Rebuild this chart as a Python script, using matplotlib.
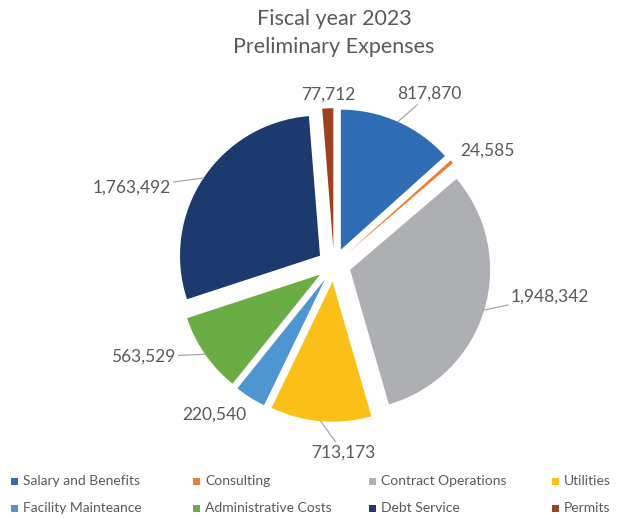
import numpy as np
import matplotlib.pyplot as plt
from matplotlib.patches import Rectangle

plt.rcParams['font.family'] = ['Lato', 'DejaVu Sans']

categories = ["Salary and Benefits", "Consulting", "Contract Operations", "Utilities",
              "Facility Mainteance", "Administrative Costs", "Debt Service", "Permits"]
expenses = [817870, 24585, 1948342, 713173, 220540, 563529, 1763492, 77712]
colors = ["#2E6DB4", "#ED7D31", "#AEAFB3", "#FBC017", "#4D96D1", "#6BAD45", "#1C3A6E", "#9C4222"]

# label placement: (angle in degrees, distance from centre in radii), leader line on/off
label_pos = [(60.8, 1.40), (36.7, 1.37), (-8.2, 1.56), (-87.2, 1.34),
             (-128.8, 1.37), (-154.2, 1.51), (159.0, 1.55), (92.0, 1.22)]
leader = [True, False, True, True, False, True, True, False]

grey = "#595959"
W, H = 629, 518
fig = plt.figure(figsize=(W / 100, H / 100), dpi=100)

# pie centre (334, 265) px, radius 140 px
cx, cy, r, half = 334, 265, 140, 230
ax = fig.add_axes([(cx - half) / W, (H - cy - half) / H, 2 * half / W, 2 * half / H])
explode = 0.12
wedges, _ = ax.pie(expenses, colors=colors, startangle=90, counterclock=False,
                   explode=[explode] * len(expenses), radius=1.0,
                   wedgeprops=dict(linewidth=0))
lim = half / r
ax.set_xlim(-lim, lim)
ax.set_ylim(-lim, lim)
ax.set_aspect('equal')
ax.axis('off')

for w, val, (ang, dist), has_line in zip(wedges, expenses, label_pos, leader):
    mid = np.deg2rad((w.theta1 + w.theta2) / 2)
    edge = ((1 + explode) * np.cos(mid), (1 + explode) * np.sin(mid))
    pos = (dist * np.cos(np.deg2rad(ang)), dist * np.sin(np.deg2rad(ang)))
    props = dict(arrowstyle='-', color='#A6A6A6', lw=0.9, shrinkA=0, shrinkB=0) if has_line else None
    ax.annotate(f"{val:,}", xy=edge, xytext=pos, ha='center', va='center',
                fontsize=12.5, color=grey, arrowprops=props, annotation_clip=False)

fig.text(cx / W, 1 - 19 / H, "Fiscal year 2023", ha='center', va='center', fontsize=15.5, color=grey)
fig.text(cx / W, 1 - 47 / H, "Preliminary Expenses", ha='center', va='center', fontsize=15.5, color=grey)

# legend laid out in a fixed 4-column grid
col_x = [14, 196, 372, 555]
row_y = [481, 508]
for i, (name, c) in enumerate(zip(categories, colors)):
    x, y = col_x[i % 4], row_y[i // 4]
    fig.add_artist(Rectangle(((x - 3.5) / W, 1 - (y + 3.5) / H), 7 / W, 7 / H,
                             transform=fig.transFigure, color=c, lw=0))
    fig.text((x + 9) / W, 1 - y / H, name, ha='left', va='center', fontsize=10, color=grey)

fig.savefig("out.png", dpi=100)
